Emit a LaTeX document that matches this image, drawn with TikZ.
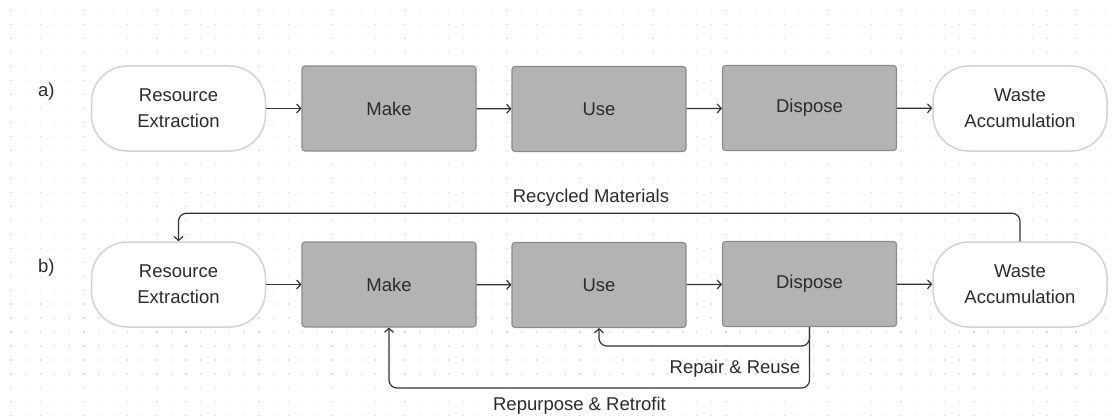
\documentclass[tikz,border=0pt]{standalone}
\usepackage{fontspec}
\setmainfont{Liberation Sans}
\usetikzlibrary{arrows.meta}
\definecolor{txt}{HTML}{2B2B2B}
\definecolor{boxfill}{HTML}{B3B3B3}
\definecolor{boxline}{HTML}{8A8A8A}
\definecolor{pillline}{HTML}{D2D2D2}
\definecolor{dotc}{HTML}{DADADA}
\definecolor{wire}{HTML}{333333}
\tikzset{
  x=1pt, y=-1pt,
  base/.style={font=\fontsize{18.5}{26}\selectfont, text=txt, align=center, inner sep=0pt},
  procbox/.style={base, draw=boxline, fill=boxfill, line width=1.1pt, rounded corners=3pt,
    minimum width=174pt, minimum height=85pt},
  pill/.style={base, draw=pillline, fill=white, line width=1.5pt, rounded corners=36pt,
    minimum width=174pt, minimum height=85pt},
  arr/.style={draw=wire, line width=1.2pt, -{Straight Barb[length=4pt,width=9pt]}},
  lbl/.style={base},
}
\begin{document}
\begin{tikzpicture}
\useasboundingbox (0,0) rectangle (1113,417);
% dot grid
\foreach \i in {0,...,76} {
  \foreach \j in {0,...,29} {
    \fill[dotc] ({11+\i*14.59-0.6},{10.7+\j*13.97-0.6}) rectangle ++(1.2,1.2);
  }
}
% row a
\node[lbl, anchor=west] (la) at (38,92) {a)};
\node[pill] (r1) at (178.5,108.5) {Resource\\Extraction};
\node[procbox] (m1) at (389,108.5) {Make};
\node[procbox] (u1) at (599,109) {Use};
\node[procbox] (d1) at (809.5,108) {Dispose};
\node[pill] (w1) at (1020,108.5) {Waste\\Accumulation};
\draw[arr] (r1) -- (m1);
\draw[arr] (m1) -- (u1);
\draw[arr] (u1) -- (d1);
\draw[arr] (d1) -- (w1);
% row b
\node[lbl, anchor=west] (lb) at (38,268) {b)};
\node[pill] (r2) at (178.5,284.5) {Resource\\Extraction};
\node[procbox] (m2) at (389,284.5) {Make};
\node[procbox] (u2) at (599,285) {Use};
\node[procbox] (d2) at (809.5,284) {Dispose};
\node[pill] (w2) at (1020,284.5) {Waste\\Accumulation};
\draw[arr] (r2) -- (m2);
\draw[arr] (m2) -- (u2);
\draw[arr] (u2) -- (d2);
\draw[arr] (d2) -- (w2);
% loops
\draw[arr, rounded corners=8pt] (w2.north) -- ++(0,-28) -| (r2.north);
\draw[arr, rounded corners=8pt] (d2.south) -- ++(0,19) -| (u2.south);
\draw[arr, rounded corners=8pt] (d2.south) -- ++(0,61) -| (m2.south);
% labels
\node[lbl] (t1) at (591,198) {Recycled Materials};
\node[lbl] (t2) at (735,369) {Repair \& Reuse};
\node[lbl] (t3) at (579.5,406) {Repurpose \& Retrofit};
\end{tikzpicture}
\end{document}
